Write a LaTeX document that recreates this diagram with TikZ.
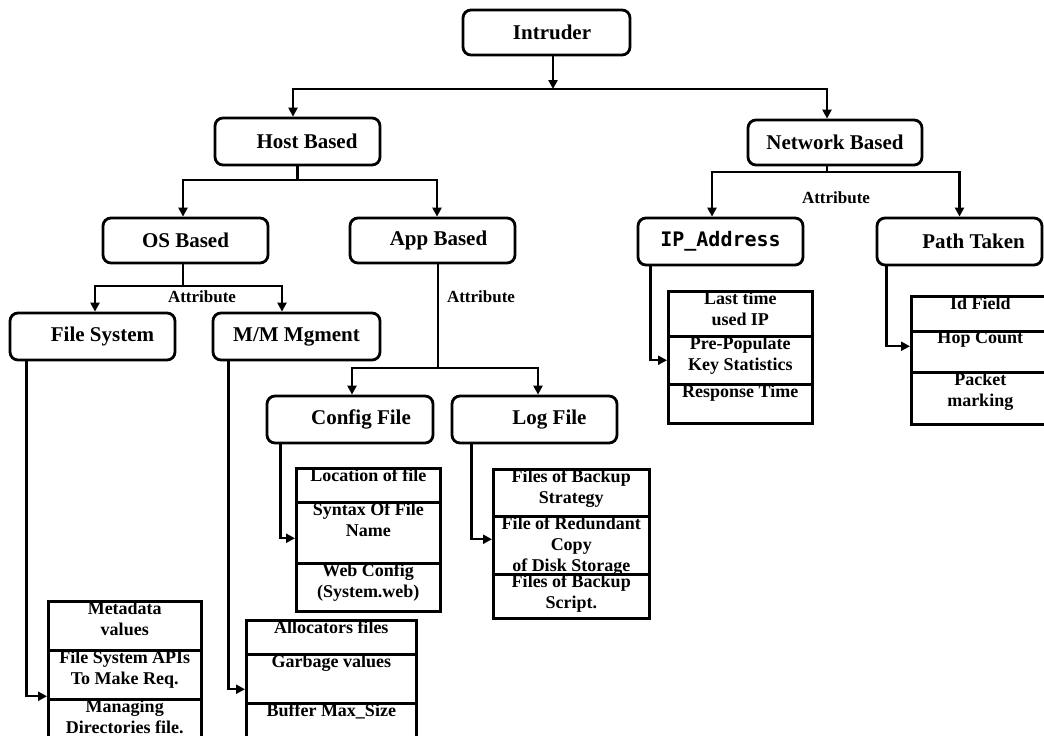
\documentclass[tikz,border=0pt]{standalone}
\usepackage{fontspec}
\setmainfont{Liberation Serif}
\newfontfamily\ipfont{DejaVu Sans Mono}
\usetikzlibrary{arrows.meta}
\tikzset{
  rbox/.style={draw, line width=2.8pt, rounded corners=8pt, inner sep=0pt,
    font=\fontsize{21}{24}\selectfont\bfseries},
  cellbox/.style={draw, line width=2.5pt, anchor=north west, inner sep=0pt},
  celltext/.style={anchor=north, inner sep=0pt, align=center, yshift=-1.5pt,
    font=\fontsize{18}{21}\selectfont\bfseries},
  attr/.style={inner sep=0pt, font=\fontsize{17}{20}\selectfont\bfseries},
  ln/.style={line width=2.4pt},
  arr/.style={line width=2.4pt, -{Triangle[length=9pt,width=9pt]}},
}
\begin{document}
\begin{tikzpicture}[x=1pt,y=-1pt]
\useasboundingbox[fill=white] (0,0) rectangle (1044,736);

% ---------- rounded boxes ----------
\node[rbox, minimum width=167pt, minimum height=45pt] (intruder) at (546.5,32.5) {\hspace*{11pt}Intruder};
\node[rbox, minimum width=165pt, minimum height=47pt] (host) at (297.5,141.5) {\hspace*{19pt}Host Based};
\node[rbox, minimum width=174pt, minimum height=45pt] (net) at (835,142.5) {Network Based};
\node[rbox, minimum width=165pt, minimum height=45pt] (os) at (185.5,240.5) {OS Based};
\node[rbox, minimum width=165pt, minimum height=45pt] (app) at (432.5,240.5) {\hspace*{12pt}App Based};
\node[rbox, minimum width=165pt, minimum height=47pt] (fs) at (92.5,336.5) {\hspace*{20pt}File System};
\node[rbox, minimum width=167pt, minimum height=47pt] (mm) at (296.5,336.5) {M/M Mgment};
\node[rbox, minimum width=166pt, minimum height=47pt] (config) at (350,419.5) {\hspace*{22pt}Config File};
\node[rbox, minimum width=165pt, minimum height=47pt] (log) at (534.5,419.5) {\hspace*{30pt}Log File};
\node[rbox, minimum width=165pt, minimum height=47pt] (ip) at (720.5,241.5) {\ipfont\fontsize{20}{24}\selectfont IP\_Address};
\node[rbox, minimum width=165pt, minimum height=47pt] (path) at (959.5,241.5) {\hspace*{28pt}Path Taken};

% ---------- attribute labels ----------
\node[attr] (attrOS) at (202,297) {Attribute};
\node[attr] (attrApp) at (481,297) {Attribute};
\node[attr] (attrNet) at (836,198) {Attribute};

% ---------- tables ----------
% IP_Address
\node[cellbox, minimum width=144pt, minimum height=45pt] (ip1) at (667,290) {};
\node[cellbox, minimum width=144pt, minimum height=48pt] (ip2) at (667,335) {};
\node[cellbox, minimum width=144pt, minimum height=39pt] (ip3) at (667,383) {};
\node[celltext] (ip1t) at (ip1.north) {Last time\\used IP};
\node[celltext] (ip2t) at (ip2.north) {Pre-Populate\\Key Statistics};
\node[celltext] (ip3t) at (ip3.north) {Response Time};
% Path Taken
\node[cellbox, minimum width=142pt, minimum height=35pt] (pt1) at (910,295) {};
\node[cellbox, minimum width=142pt, minimum height=41pt] (pt2) at (910,330) {};
\node[cellbox, minimum width=142pt, minimum height=52pt] (pt3) at (910,371) {};
\node[celltext] (pt1t) at ([xshift=-2pt]pt1.north) {Id Field};
\node[celltext] (pt2t) at ([xshift=-2pt]pt2.north) {Hop Count};
\node[celltext] (pt3t) at ([xshift=-2pt]pt3.north) {Packet\\marking};
% Config File
\node[cellbox, minimum width=144pt, minimum height=34pt] (cf1) at (295,467) {};
\node[cellbox, minimum width=144pt, minimum height=61pt] (cf2) at (295,501) {};
\node[cellbox, minimum width=144pt, minimum height=48pt] (cf3) at (295,562) {};
\node[celltext] (cf1t) at (cf1.north) {Location of file};
\node[celltext] (cf2t) at (cf2.north) {Syntax Of File\\Name};
\node[celltext] (cf3t) at (cf3.north) {Web Config\\(System.web)};
% Log File
\node[cellbox, minimum width=156pt, minimum height=47pt] (lg1) at (492,468) {};
\node[cellbox, minimum width=156pt, minimum height=58pt] (lg2) at (492,515) {};
\node[cellbox, minimum width=156pt, minimum height=44pt] (lg3) at (492,573) {};
\node[celltext] (lg1t) at (lg1.north) {Files of Backup\\Strategy};
\node[celltext] (lg2t) at (lg2.north) {File of Redundant\\Copy\\of Disk Storage};
\node[celltext] (lg3t) at (lg3.north) {Files of Backup\\Script.};
% File System
\node[cellbox, minimum width=153pt, minimum height=49pt] (fs1) at (47,600) {};
\node[cellbox, minimum width=153pt, minimum height=49pt] (fs2) at (47,649) {};
\node[cellbox, minimum width=153pt, minimum height=50pt] (fs3) at (47,698) {};
\node[celltext] (fs1t) at (fs1.north) {Metadata\\values};
\node[celltext] (fs2t) at (fs2.north) {File System APIs\\To Make Req.};
\node[celltext] (fs3t) at (fs3.north) {Managing\\Directories file.};
% M/M Mgment
\node[cellbox, minimum width=170pt, minimum height=34pt] (mm1) at (245,619) {};
\node[cellbox, minimum width=170pt, minimum height=49pt] (mm2) at (245,653) {};
\node[cellbox, minimum width=170pt, minimum height=50pt] (mm3) at (245,702) {};
\node[celltext] (mm1t) at (mm1.north) {Allocators files};
\node[celltext] (mm2t) at (mm2.north) {Garbage values};
\node[celltext] (mm3t) at (mm3.north) {Buffer Max\_Size};

% ---------- tree connectors ----------
\coordinate (b0) at (553,89);
\draw[arr] ([xshift=6.5pt]intruder.south) -- (b0);
\draw[arr] (b0) -| ([xshift=-4.5pt]host.north);
\draw[arr] (b0) -| ([xshift=-8pt]net.north);

\coordinate (b1) at (297.5,180);
\draw[ln] (host.south) -- (b1);
\draw[arr] (b1) -| ([xshift=-2.5pt]os.north);
\draw[arr] (b1) -| ([xshift=4.5pt]app.north);

\coordinate (b2) at (183,286);
\draw[ln] ([xshift=-2.5pt]os.south) -- (b2);
\draw[arr] (b2) -| ([xshift=2.5pt]fs.north);
\draw[arr] (b2) -| ([xshift=-14.5pt]mm.north);

\coordinate (b3) at (438,368);
\draw[ln] ([xshift=5.5pt]app.south) -- (b3);
\draw[arr] (b3) -| ([xshift=2pt]config.north);
\draw[arr] (b3) -| ([xshift=3.5pt]log.north);

\coordinate (b4) at (827,172);
\draw[ln] ([xshift=-8pt]net.south) -- (b4);
\draw[arr] (b4) -| ([xshift=-8.5pt]ip.north);
\draw[arr] (b4) -| (path.north);

% ---------- table connectors ----------
\draw[arr] ([xshift=18pt]fs.south west) |- ([yshift=-21.5pt]fs2.west);
\draw[arr] ([xshift=17pt]mm.south west) |- ([yshift=-10.5pt]mm2.west);
\draw[arr] ([xshift=15pt]config.south west) |- ([yshift=-5.5pt]cf2.west);
\draw[arr] ([xshift=21pt]log.south west) |- ([yshift=6pt]lg2.west);
\draw[arr] ([xshift=14pt]ip.south west) |- (ip2.west);
\draw[arr] ([xshift=11pt]path.south west) |- ([yshift=5.5pt]pt2.west);
\end{tikzpicture}
\end{document}
